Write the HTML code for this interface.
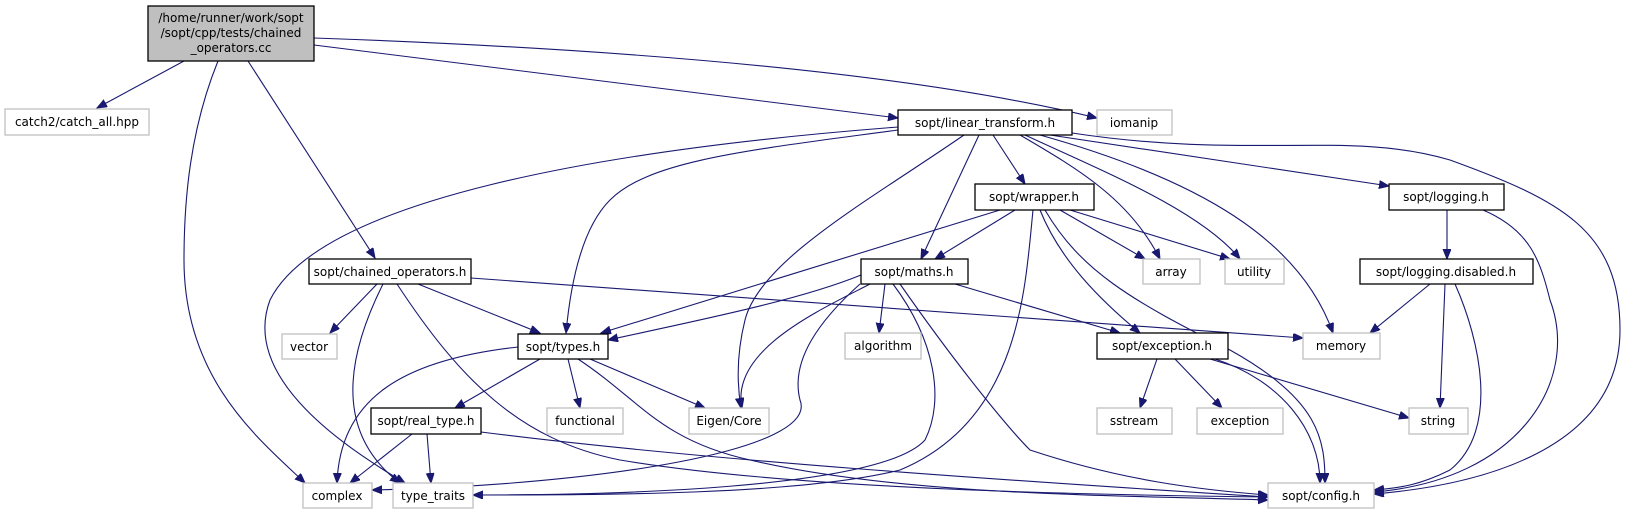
<!DOCTYPE html>
<html><head><meta charset="utf-8"><style>
html,body{margin:0;padding:0;background:#fff;width:1627px;height:515px;overflow:hidden}
svg{display:block}
text{font-family:"DejaVu Sans","Liberation Sans",sans-serif;font-size:12px;fill:#000}
.e{fill:none;stroke:#191970;stroke-width:1.1}
.n{fill:#fff;stroke:#000;stroke-width:1.3}
.g{fill:#fff;stroke:#bfbfbf;stroke-width:1.3}
</style></head><body>
<svg width="1627" height="515" viewBox="0 0 1627 515">
<defs><marker id="a" markerUnits="userSpaceOnUse" markerWidth="11" markerHeight="9" refX="10" refY="4" orient="auto"><path d="M0,0 L10,4 L0,8 z" fill="#191970" stroke="#191970"/></marker></defs>
<g marker-end="url(#a)">
<path class="e" d="M184,61 L97,108"/>
<path class="e" d="M218,61 C190,130 184,200 184,260 C184,380 260,440 305,483"/>
<path class="e" d="M248,61 L375,258"/>
<path class="e" d="M314,45 L898,118"/>
<path class="e" d="M314,38 C600,48 900,70 1097,118"/>
<path class="e" d="M898,130 C750,150 650,160 610,200 C580,230 570,290 566,333"/>
<path class="e" d="M898,127 C600,150 320,200 270,300 C240,380 350,450 405,483"/>
<path class="e" d="M964,135 C870,200 760,260 745,320 C735,360 738,390 741,408"/>
<path class="e" d="M979,135 L921,259"/>
<path class="e" d="M993,135 L1025,184"/>
<path class="e" d="M1020,135 C1080,170 1130,200 1160,259"/>
<path class="e" d="M1025,135 C1100,170 1200,210 1240,259"/>
<path class="e" d="M1040,135 C1200,180 1300,240 1333,333"/>
<path class="e" d="M1050,135 L1389,186"/>
<path class="e" d="M1072,133 C1250,160 1350,130 1450,160 C1560,200 1620,230 1620,330 C1620,450 1480,485 1374,494"/>
<path class="e" d="M1000,210 L601,333"/>
<path class="e" d="M1015,210 L935,259"/>
<path class="e" d="M1033,210 C1025,290 1020,420 900,470 C800,495 600,495 473,495"/>
<path class="e" d="M1040,210 C1060,260 1100,300 1140,333"/>
<path class="e" d="M1045,210 C1080,270 1130,300 1230,350 C1320,400 1325,440 1325,483"/>
<path class="e" d="M1060,210 L1145,259"/>
<path class="e" d="M1070,210 L1230,259"/>
<path class="e" d="M861,275 C800,300 700,320 608,340"/>
<path class="e" d="M870,284 C820,310 730,350 742,408"/>
<path class="e" d="M885,284 L879,333"/>
<path class="e" d="M860,284 C820,320 790,360 800,400 C820,450 600,485 372,490"/>
<path class="e" d="M893,284 C935,340 945,400 925,440 C880,490 600,495 473,495"/>
<path class="e" d="M900,284 C960,370 1010,430 1030,450 C1120,480 1200,490 1268,495"/>
<path class="e" d="M955,284 L1120,333"/>
<path class="e" d="M377,284 L330,333"/>
<path class="e" d="M418,284 L540,333"/>
<path class="e" d="M383,284 C350,350 330,430 400,483"/>
<path class="e" d="M397,284 C460,380 520,440 620,460 C800,490 1100,495 1268,497"/>
<path class="e" d="M471,278 L1303,338"/>
<path class="e" d="M518,347 C400,360 340,400 337,483"/>
<path class="e" d="M540,359 L455,408"/>
<path class="e" d="M568,359 L580,408"/>
<path class="e" d="M590,359 L705,408"/>
<path class="e" d="M578,359 C640,400 660,440 750,460 C900,495 1100,495 1268,500"/>
<path class="e" d="M412,434 L350,483"/>
<path class="e" d="M427,434 L431,483"/>
<path class="e" d="M481,432 C700,460 1000,480 1268,497"/>
<path class="e" d="M1157,359 L1140,408"/>
<path class="e" d="M1175,359 L1222,408"/>
<path class="e" d="M1210,359 L1409,418"/>
<path class="e" d="M1215,359 C1280,380 1320,430 1320,483"/>
<path class="e" d="M1447,210 L1447,259"/>
<path class="e" d="M1483,210 C1530,230 1540,260 1550,300 C1580,380 1520,480 1374,492"/>
<path class="e" d="M1430,284 L1370,333"/>
<path class="e" d="M1445,284 L1440,408"/>
<path class="e" d="M1455,284 C1480,340 1500,430 1450,470 C1420,485 1400,488 1374,490"/>
</g>
<rect x="148" y="6" width="166" height="55" fill="#bfbfbf" stroke="#000" stroke-width="1.3"/>
<text x="231" y="22" text-anchor="middle">/home/runner/work/sopt</text>
<text x="231" y="37" text-anchor="middle">/sopt/cpp/tests/chained</text>
<text x="231" y="52" text-anchor="middle">_operators.cc</text>
<rect class="g" x="5" y="109" width="144" height="26"/><text x="77" y="126" text-anchor="middle">catch2/catch_all.hpp</text>
<rect class="n" x="898" y="110" width="174" height="25"/><text x="985" y="127" text-anchor="middle">sopt/linear_transform.h</text>
<rect class="g" x="1097" y="110" width="75" height="25"/><text x="1134" y="127" text-anchor="middle">iomanip</text>
<rect class="n" x="975" y="184" width="119" height="26"/><text x="1034" y="201" text-anchor="middle">sopt/wrapper.h</text>
<rect class="n" x="1389" y="184" width="115" height="26"/><text x="1446" y="201" text-anchor="middle">sopt/logging.h</text>
<rect class="n" x="309" y="259" width="162" height="25"/><text x="390" y="276" text-anchor="middle">sopt/chained_operators.h</text>
<rect class="n" x="861" y="259" width="107" height="25"/><text x="914" y="276" text-anchor="middle">sopt/maths.h</text>
<rect class="g" x="1143" y="259" width="57" height="25"/><text x="1171" y="276" text-anchor="middle">array</text>
<rect class="g" x="1225" y="259" width="59" height="25"/><text x="1254" y="276" text-anchor="middle">utility</text>
<rect class="n" x="1360" y="259" width="173" height="25"/><text x="1446" y="276" text-anchor="middle">sopt/logging.disabled.h</text>
<rect class="g" x="282" y="334" width="55" height="25"/><text x="309" y="351" text-anchor="middle">vector</text>
<rect class="n" x="518" y="334" width="90" height="25"/><text x="563" y="351" text-anchor="middle">sopt/types.h</text>
<rect class="g" x="845" y="333" width="76" height="26"/><text x="883" y="350" text-anchor="middle">algorithm</text>
<rect class="n" x="1097" y="333" width="131" height="26"/><text x="1162" y="350" text-anchor="middle">sopt/exception.h</text>
<rect class="g" x="1303" y="333" width="77" height="26"/><text x="1341" y="350" text-anchor="middle">memory</text>
<rect class="n" x="371" y="408" width="110" height="26"/><text x="426" y="425" text-anchor="middle">sopt/real_type.h</text>
<rect class="g" x="547" y="408" width="76" height="26"/><text x="585" y="425" text-anchor="middle">functional</text>
<rect class="g" x="689" y="408" width="80" height="26"/><text x="729" y="425" text-anchor="middle">Eigen/Core</text>
<rect class="g" x="1097" y="408" width="75" height="26"/><text x="1134" y="425" text-anchor="middle">sstream</text>
<rect class="g" x="1197" y="408" width="86" height="26"/><text x="1240" y="425" text-anchor="middle">exception</text>
<rect class="g" x="1409" y="408" width="59" height="26"/><text x="1438" y="425" text-anchor="middle">string</text>
<rect class="g" x="303" y="483" width="69" height="25"/><text x="337" y="500" text-anchor="middle">complex</text>
<rect class="g" x="393" y="483" width="80" height="25"/><text x="433" y="500" text-anchor="middle">type_traits</text>
<rect class="g" x="1268" y="483" width="106" height="25"/><text x="1321" y="500" text-anchor="middle">sopt/config.h</text>
</svg>
</body></html>
